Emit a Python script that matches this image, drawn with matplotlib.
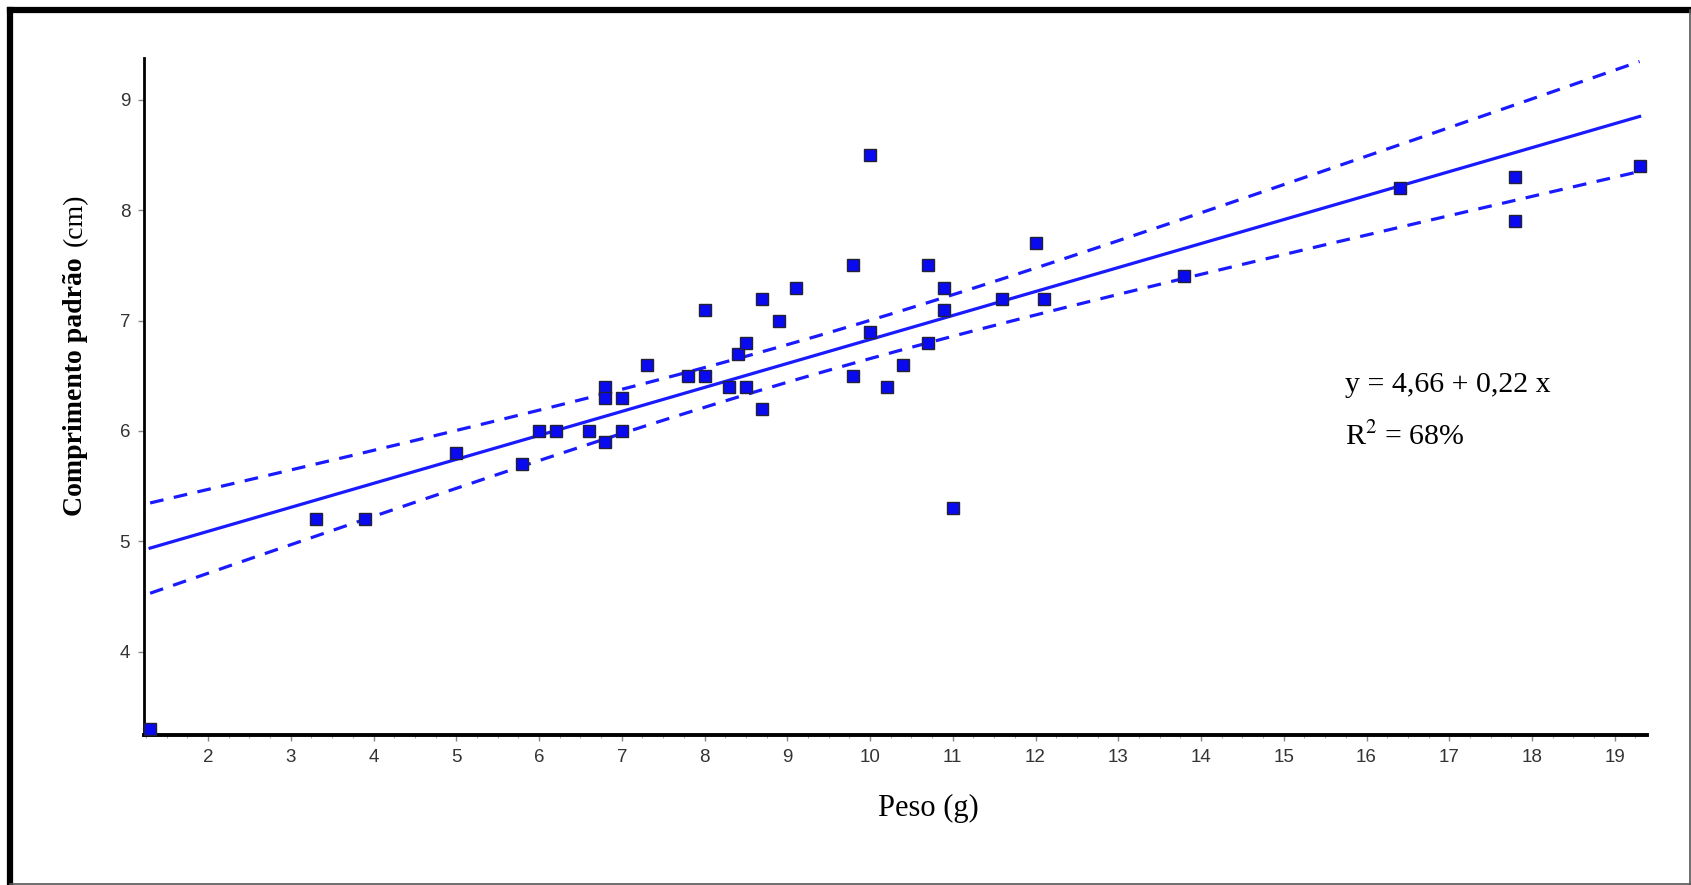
import numpy as np
from matplotlib import pyplot as plt
from matplotlib.lines import Line2D
from matplotlib.ticker import MultipleLocator

# peso (g) and comprimento padrão (cm)
peso = [1.3, 3.3, 3.9, 5.0, 5.8, 6.0, 6.2, 6.6, 6.8, 6.8, 6.8, 7.0, 7.0, 7.3, 7.8,
        8.0, 8.0, 8.3, 8.4, 8.5, 8.5, 8.7, 8.7, 8.9, 9.1, 9.8, 9.8, 10.0, 10.0, 10.2,
        10.4, 10.7, 10.7, 10.9, 10.9, 11.0, 11.6, 12.0, 12.1, 13.8, 16.4, 17.8, 17.8, 19.3]
comprimento = [3.3, 5.2, 5.2, 5.8, 5.7, 6.0, 6.0, 6.0, 6.4, 6.3, 5.9, 6.3, 6.0, 6.6, 6.5,
               6.5, 7.1, 6.4, 6.7, 6.8, 6.4, 7.2, 6.2, 7.0, 7.3, 7.5, 6.5, 8.5, 6.9, 6.4,
               6.6, 7.5, 6.8, 7.3, 7.1, 5.3, 7.2, 7.7, 7.2, 7.4, 8.2, 8.3, 7.9, 8.4]

x_ticks = list(range(2, 20))
y_ticks = [4, 5, 6, 7, 8, 9]
equation = "y = 4,66 + 0,22 x"
r2_text = "R$^{2}$ = 68%"
T_975 = 2.018  # t quantile, 42 degrees of freedom

BLUE = "#1a1aff"
W, H = 1691, 885

x = np.array(peso)
y = np.array(comprimento)
n = len(x)
slope, intercept = np.polyfit(x, y, 1)
resid = y - (intercept + slope * x)
s = np.sqrt(np.sum(resid ** 2) / (n - 2))
sxx = np.sum((x - x.mean()) ** 2)

# fitted line and 95% confidence band
xs = np.linspace(x.min(), x.max(), 200)
fit = intercept + slope * xs
half = T_975 * s * np.sqrt(1 / n + (xs - x.mean()) ** 2 / sxx)

plt.rcParams["font.family"] = ["Liberation Sans", "DejaVu Sans"]
fig = plt.figure(figsize=(W / 100, H / 100), dpi=100)
ax = fig.add_axes([0.0852, 0.1695, 0.974 - 0.0852, 0.9345 - 0.1695])

ax.plot(xs, fit, color=BLUE, lw=2.3, zorder=2)
ax.plot(xs, fit + half, color=BLUE, lw=2.3, dashes=(4.3, 3.3), zorder=2)
ax.plot(xs, fit - half, color=BLUE, lw=2.3, dashes=(4.3, 3.3), zorder=2)
ax.plot(x, y, ls="none", marker="s", ms=8, mfc="#0a0af0", mec="#222233", mew=1.0,
        zorder=3, clip_on=False)

ax.set_xlim(1.227, 19.39)
ax.set_ylim(3.245, 9.38)
ax.set_xticks(x_ticks)
ax.set_yticks(y_ticks)
ax.xaxis.set_minor_locator(MultipleLocator(0.25))
for side in ("top", "right"):
    ax.spines[side].set_visible(False)
ax.spines["left"].set_linewidth(2.0)
ax.spines["bottom"].set_linewidth(2.8)
ax.tick_params(axis="both", which="major", length=4, width=1, color="#888888",
               labelsize=13.5, labelcolor="#333333", pad=6)
ax.tick_params(axis="x", which="minor", length=2.5, width=0.8, color="#aaaaaa")

serif = "Liberation Serif"
fig.text(928 / W, 1 - 808 / H, "Peso (g)", family=serif, fontsize=22,
         ha="center", va="center")
fig.text(75 / W, 1 - 516 / H, "Comprimento padrão", family=serif,
         fontsize=20, fontweight="bold", rotation=90, ha="center", va="bottom")
fig.text(75 / W, 1 - 194 / H, "(cm)", family=serif,
         fontsize=20, rotation=90, ha="center", va="top")

fig.text(1345 / W, 1 - 385 / H, equation, family=serif, fontsize=21.5,
         ha="left", va="center")
fig.text(1345 / W, 1 - 437 / H, r2_text, family=serif, fontsize=21.5,
         ha="left", va="center", math_fontfamily="stix")

# page frame: heavy top/left, thin right/bottom
fig.add_artist(Line2D([9.5 / W, 9.5 / W], [0, 1 - 9.5 / H], color="black", lw=4.5,
                      transform=fig.transFigure, solid_capstyle="projecting"))
fig.add_artist(Line2D([9.5 / W, 1], [1 - 10 / H, 1 - 10 / H], color="black", lw=4.5,
                      transform=fig.transFigure, solid_capstyle="projecting"))
fig.add_artist(Line2D([1 - 1 / W, 1 - 1 / W], [0, 1 - 10 / H], color="#555555", lw=1.2,
                      transform=fig.transFigure))
fig.add_artist(Line2D([9.5 / W, 1], [1 / H, 1 / H], color="#555555", lw=1.2,
                      transform=fig.transFigure))

fig.savefig("out.png", dpi=100, facecolor="white")
